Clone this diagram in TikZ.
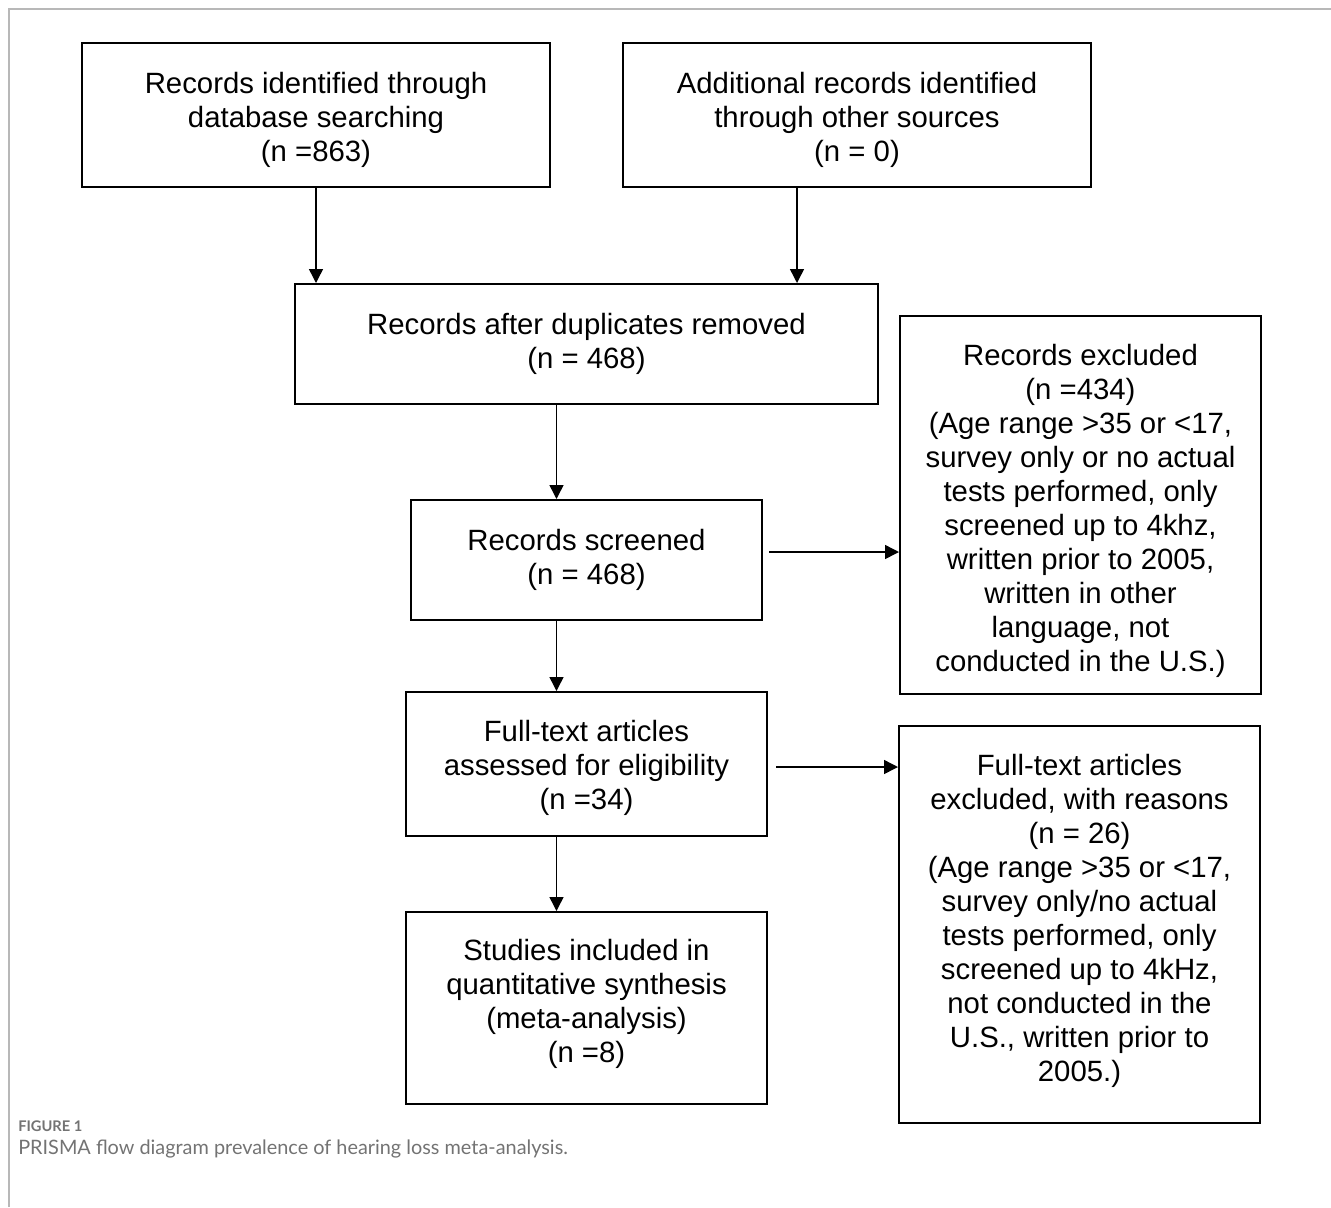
\documentclass[tikz,border=0pt]{standalone}
\usepackage{fontspec}
\setmainfont{Liberation Sans}
\newfontfamily\capfont{Lato}
\usetikzlibrary{arrows.meta,calc,positioning}
\definecolor{framegray}{gray}{0.72}
\definecolor{capgray}{gray}{0.45}
\def\pxu{0.75pt}
\tikzstyle{box} = [draw, line width=1.5pt, align=center, inner sep=0pt, font=\fontsize{22}{25.5}\selectfont]
\tikzstyle{arrow} = [-{Triangle[length=10.5pt,width=10.5pt]}, line width=1.1pt]

\begin{document}
\begin{tikzpicture}[x=0.75pt,y=-0.75pt]
    \useasboundingbox (0,0) rectangle (1331,1207);
    % frame
    \draw[framegray, line width=1.5pt] (9,1207) -- (9,9) -- (1331,9);
    % identification
    \node[box, minimum width=468*\pxu, minimum height=144*\pxu] (db) at (316,115)
        {\mbox{}\\[-2pt]Records identified through\\database searching\\(n =863)};
    \node[box, minimum width=468*\pxu, minimum height=144*\pxu] (add) at (857,115)
        {\mbox{}\\[-2pt]Additional records identified\\through other sources\\(n = 0)};
    % screening
    \node[box, minimum width=583*\pxu, minimum height=120*\pxu] (dup) at (586.5,344)
        {Records after duplicates removed\\(n = 468)};
    \node[box, minimum width=351*\pxu, minimum height=120*\pxu] (scr) at (586.5,560)
        {Records screened\\(n = 468)};
    \node[box, minimum width=361*\pxu, minimum height=378*\pxu] (exc) at (1080.5,505)
        {\mbox{}\\[-0.75pt]Records excluded\\(n =434)\\(Age range >35 or <17,\\survey only or no actual\\tests performed, only\\screened up to 4khz,\\written prior to 2005,\\written in other\\language, not\\conducted in the U.S.)};
    % eligibility
    \node[box, minimum width=361*\pxu, minimum height=144*\pxu] (ft) at (586.5,764)
        {\mbox{}\\[-3.75pt]Full-text articles\\assessed for eligibility\\(n =34)};
    \node[box, minimum width=361*\pxu, minimum height=397*\pxu] (ftx) at (1079.5,924.5)
        {Full-text articles\\excluded, with reasons\\(n = 26)\\(Age range >35 or <17,\\survey only/no actual\\tests performed, only\\screened up to 4kHz,\\not conducted in the\\U.S., written prior to\\2005.)\\[-14.9pt]\mbox{}};
    % included
    \node[box, minimum width=361*\pxu, minimum height=192*\pxu] (inc) at (586.5,1008)
        {Studies included in\\quantitative synthesis\\(meta-analysis)\\(n =8)\\[-14.9pt]\mbox{}};
    % arrows
    \draw[arrow] (db.south) -- (db.south |- dup.north);
    \coordinate (a2) at ($(add.south)+(-60,0)$);
    \draw[arrow] (a2) -- (a2 |- dup.north);
    \coordinate (a3) at ($(dup.south)+(-30,0)$);
    \draw[arrow] (a3) -- (a3 |- scr.north);
    \coordinate (a4) at ($(scr.south)+(-30,0)$);
    \draw[arrow] (a4) -- (a4 |- ft.north);
    \coordinate (a5) at ($(ft.south)+(-30,0)$);
    \draw[arrow] (a5) -- (a5 |- inc.north);
    \coordinate (a6) at ($(scr.east)+(6,-8)$);
    \draw[arrow] (a6) -- (a6 -| exc.west);
    \coordinate (a7) at ($(ft.east)+(8,3)$);
    \draw[arrow] (a7) -- (a7 -| ftx.west);
    % caption
    \node[anchor=base west, inner sep=0pt, text=capgray, font=\capfont\bfseries\fontsize{11}{13}\selectfont] (fig) at (18,1131) {FIGURE 1};
    \node[anchor=base west, inner sep=0pt, text=capgray, font=\capfont\fontsize{14.9}{18}\selectfont] (cap) at (18,1154) {PRISMA flow diagram prevalence of hearing loss meta-analysis.};
\end{tikzpicture}
\end{document}
